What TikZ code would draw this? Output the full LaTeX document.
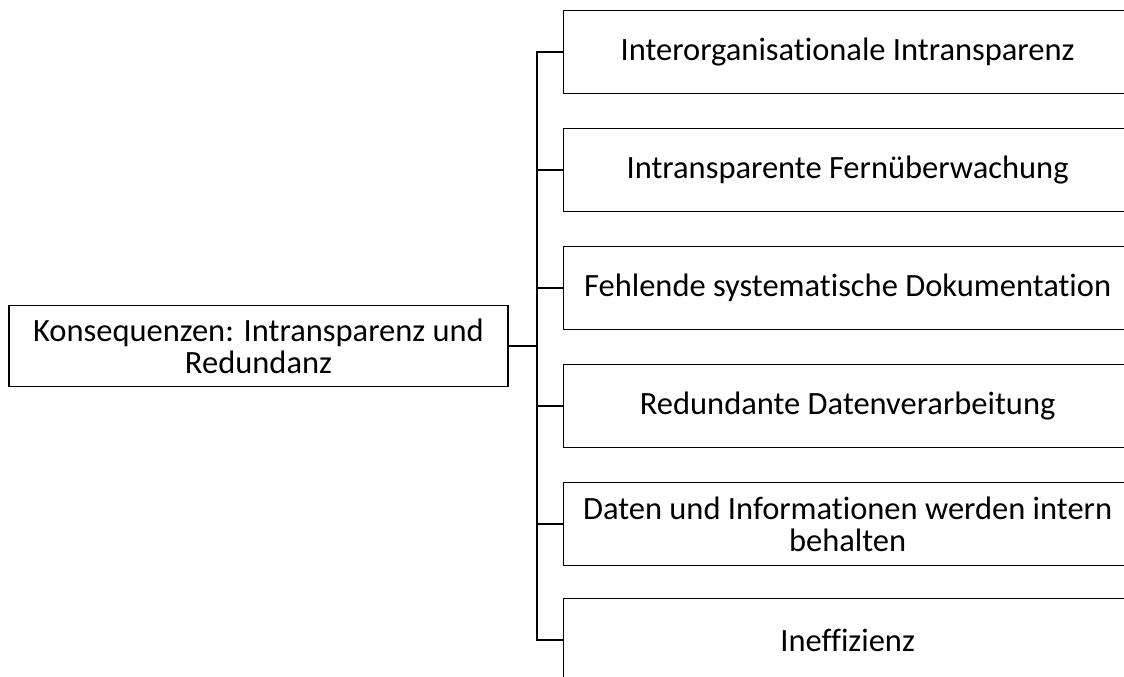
\documentclass[tikz,border=0pt]{standalone}
\usepackage{fontspec}
\setmainfont{Carlito}[Ligatures={NoCommon}]
\begin{document}
\begin{tikzpicture}[x=1pt,y=-1pt,
  box/.style={draw=black,line width=1.2pt,fill=white,rectangle,inner sep=0pt,
    align=center,font=\fontsize{32.5}{32}\selectfont},
  rootbox/.style={box,minimum width=499pt,minimum height=81pt},
  leafbox/.style={box,minimum width=568pt,minimum height=83pt,anchor=west},
  link/.style={draw=black,line width=1.1pt}]
\useasboundingbox (0,0) rectangle (1124,677);
\clip (0,0) rectangle (1124,677);
\fill[white] (0,0) rectangle (1124,677);

\node[rootbox] (root) at (258.5,346) {Konsequenzen: Intransparenz und\\Redundanz};

\node[leafbox] (c1) at (563,52)  {Interorganisationale Intransparenz};
\node[leafbox] (c2) at (563,170) {Intransparente Fernüberwachung};
\node[leafbox] (c3) at (563,288) {Fehlende systematische Dokumentation};
\node[leafbox] (c4) at (563,406) {Redundante Datenverarbeitung};
\node[leafbox] (c5) at (563,524) {Daten und Informationen werden intern\\behalten};
\node[leafbox] (c6) at (563,640) {Ineffizienz};

\coordinate (hub) at (537,346);
\draw[link,line width=2pt] (root.east) -- (hub);
\foreach \n in {c1,c2,c3,c4,c5,c6}
  \draw[link] (hub) |- (\n.west);
\end{tikzpicture}
\end{document}
